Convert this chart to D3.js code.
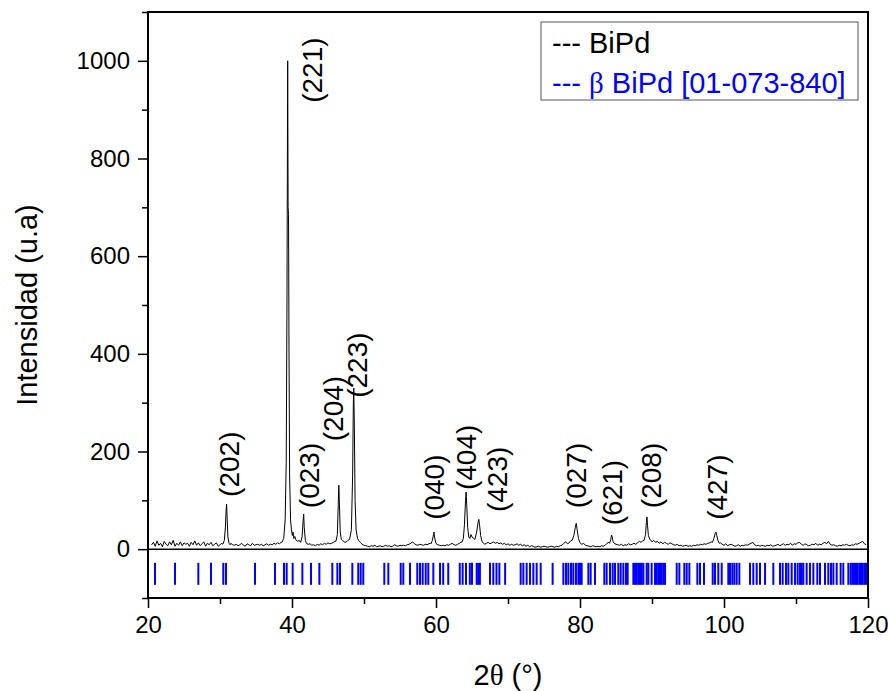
<!DOCTYPE html>
<html>
<head>
<meta charset="utf-8">
<script src="https://cdn.jsdelivr.net/npm/d3@7"></script>
<style>
  body { margin: 0; background: #fff; }
  svg { display: block; }
  text { font-family: "Liberation Sans", Arial, sans-serif; }
</style>
</head>
<body>
<svg id="chart" width="888" height="691"></svg>
<script>
// background of the pattern, sampled every 0.25 deg from 20.5 deg
const bgStart = 20.5, bgStep = 0.25;
const background = [
  9,14,6,17,8,12,5,16,10,7,15,9,18,6,12,8,15,7,13,10,
  12,6,14,9,17,8,13,7,11,15,6,12,9,14,7,10,13,6,9,12,
  10,9,8,11,12,9,8,10,7,9,12,8,6,11,9,7,12,8,9,10,
  8,10,7,9,11,8,10,9,12,10,13,11,14,15,20,25,30,28,25,22,
  20,16,18,15,14,14,12,10,11,8,9,7,10,8,11,9,12,10,13,11,
  12,14,16,18,40,22,18,15,14,18,22,28,60,60,25,18,14,10,8,7,
  6,5,7,6,8,5,6,7,5,6,8,6,7,5,6,9,7,6,8,7,
  8,7,9,10,12,15,11,9,8,10,9,8,10,9,11,12,14,12,10,9,
  8,7,8,7,9,8,10,12,9,8,10,12,15,20,25,40,25,20,28,22,
  25,30,40,25,14,10,12,14,11,13,15,12,14,11,13,10,12,9,11,8,
  10,8,9,11,8,10,7,9,6,8,5,7,6,4,5,6,4,5,6,5,
  4,5,6,5,4,6,5,7,8,12,15,11,13,18,25,40,40,25,14,10,
  12,8,7,6,5,7,6,5,6,5,7,6,8,12,14,20,20,15,10,9,
  8,10,7,9,8,11,9,10,12,10,13,16,14,18,25,40,40,20,15,18,
  14,16,12,15,11,14,12,10,13,11,9,8,10,7,8,6,7,8,6,7,
  6,8,7,9,8,10,9,11,10,12,13,15,20,25,25,18,13,10,8,11,
  7,9,10,8,6,7,9,6,8,7,9,8,10,12,14,9,7,8,6,8,
  7,6,8,7,9,6,7,8,10,7,9,11,8,10,9,12,8,11,10,13,
  14,10,8,11,9,7,8,10,9,12,8,10,9,12,14,11,16,10,8,9,
  7,6,8,7,9,8,10,8,7,9,8,11,10,12,14,16,11,9
];

// measured points over each reflection [2theta, intensity]
const peakProfiles = [
  [[30.4,10],[30.6,18],[30.75,45],[30.85,80],[30.92,92],[31.0,60],[31.1,25],[31.25,12],[31.4,9]],
  [[38.6,14],[38.85,22],[39.05,60],[39.2,180],[39.3,500],[39.4,1000],[39.46,700],[39.52,685],[39.58,420],[39.67,150],[39.8,60],[39.92,40],[40.05,28],[40.15,35],[40.25,22],[40.4,26]],
  [[41.2,14],[41.4,25],[41.55,60],[41.62,72],[41.7,45],[41.85,18],[42.0,12]],
  [[46.1,16],[46.3,30],[46.42,90],[46.5,131],[46.58,95],[46.7,35],[46.85,20]],
  [[48.0,20],[48.25,40],[48.42,150],[48.52,300],[48.58,330],[48.66,250],[48.76,100],[48.9,40],[49.1,22]],
  [[59.3,11],[59.5,18],[59.65,30],[59.72,35],[59.8,25],[59.95,14],[60.1,10]],
  [[63.6,14],[63.8,22],[63.95,50],[64.1,100],[64.18,117],[64.27,90],[64.4,45],[64.55,25],[64.7,22],[64.85,30],[65.0,25]],
  [[65.4,20],[65.65,35],[65.85,55],[65.95,61],[66.05,50],[66.2,28],[66.4,15]],
  [[78.9,18],[79.15,28],[79.35,45],[79.48,53],[79.6,40],[79.78,22],[80.0,13]],
  [[84.1,12],[84.28,20],[84.38,29],[84.46,26],[84.58,16],[84.75,12]],
  [[88.9,18],[89.1,30],[89.22,55],[89.3,66],[89.38,48],[89.5,28],[89.7,20]],
  [[98.4,14],[98.6,22],[98.78,32],[98.88,35],[99.0,28],[99.15,18],[99.35,12]]
];

// reference pattern positions (2theta) for beta BiPd
const refLines = [
  20.97,23.75,26.99,28.75,30.46,30.83,34.86,37.64,38.89,39.26,40.09,41.44,42.64,43.8,
  45.6,46.3,46.67,48.38,49.2,49.54,49.9,52.82,53.38,55.1,55.46,56.39,57.4,57.78,58.15,
  58.57,58.93,59.63,60.56,61.0,61.7,63.3,63.7,64.17,64.7,65.0,65.65,65.87,66.1,67.5,
  67.96,68.4,68.8,69.6,71.76,72.13,72.59,73.06,73.52,73.98,74.54,76.2,77.69,78.06,
  78.38,78.75,79.07,79.44,79.77,80.0,80.23,81.16,81.48,82.08,83.38,83.7,84.17,84.54,
  84.86,85.32,85.65,86.02,86.39,86.62,87.41,87.64,87.87,88.1,88.33,88.57,88.8,89.26,
  89.49,89.95,90.42,90.65,90.88,91.11,91.34,91.57,91.81,93.43,93.8,94.49,94.82,95.19,
  96.3,96.67,97.22,98.43,98.75,99.21,99.68,100.6,100.83,101.16,101.44,101.76,102.13,
  103.61,104.07,104.54,105.0,105.7,106.85,107.78,108.15,108.61,108.94,109.4,109.86,
  110.23,110.56,110.79,111.02,111.48,111.94,112.41,112.96,113.33,114.03,114.49,114.86,
  115.19,115.65,116.2,116.57,117.27,117.59,117.82,118.06,118.33,118.56,118.8,119.03,
  119.26,119.49,119.72
];
const refTop = -28, refBottom = -73;

// hkl labels [text, 2theta, intensity at start of the text]
const hklLabels = [
  ["(202)", 31.2, 107], ["(221)", 42.7, 914], ["(023)", 42.3, 84], ["(204)", 45.75, 221],
  ["(223)", 48.95, 310], ["(040)", 59.65, 60], ["(404)", 64.1, 121], ["(423)", 68.4, 76],
  ["(027)", 79.5, 84], ["(621)", 84.5, 49], ["(208)", 89.9, 84], ["(427)", 99.0, 60]
];

const xMajor = [20, 40, 60, 80, 100, 120];
const xMinor = [30, 50, 70, 90, 110];
const yMajor = [0, 200, 400, 600, 800, 1000];
const yMinor = [-100, 100, 300, 500, 700, 900, 1100];

const svg = d3.select("#chart");
const x = d3.scaleLinear().domain([20, 120]).range([148, 868]);
const y = d3.scaleLinear().domain([-100, 1100]).range([598, 12]);

// ── build the measured curve ─────────────────────────────────
let pts = [];
background.forEach((v, i) => {
  const t = bgStart + i * bgStep;
  const inPeak = peakProfiles.some(p => t >= p[0][0] && t <= p[p.length - 1][0]);
  if (!inPeak) pts.push([t, v]);
});
peakProfiles.forEach(p => { pts = pts.concat(p); });
pts.sort((a, b) => a[0] - b[0]);

// reference sticks
svg.append("g").selectAll("line").data(refLines).join("line")
  .attr("x1", d => x(d)).attr("x2", d => x(d))
  .attr("y1", y(refTop)).attr("y2", y(refBottom))
  .attr("stroke", "#0000ff").attr("stroke-width", 2);

// zero line
svg.append("line")
  .attr("x1", x(20)).attr("x2", x(120))
  .attr("y1", y(0)).attr("y2", y(0))
  .attr("stroke", "#000").attr("stroke-width", 1.5);

svg.append("path")
  .datum(pts)
  .attr("fill", "none")
  .attr("stroke", "#000")
  .attr("stroke-width", 1)
  .attr("d", d3.line().x(d => x(d[0])).y(d => y(d[1])));

// hkl labels
svg.append("g").selectAll("text").data(hklLabels).join("text")
  .attr("transform", d => `translate(${x(d[1])},${y(d[2])}) rotate(-90)`)
  .attr("dy", "0.36em")
  .attr("font-size", 28)
  .attr("fill", "#000")
  .text(d => d[0]);

// ── axes ─────────────────────────────────────────────────────
function styleAxis(g) {
  g.select(".domain").remove();
  g.selectAll(".tick line").attr("stroke", "#000").attr("stroke-width", 1.5);
  g.selectAll(".tick text").attr("font-size", 24).attr("fill", "#000")
    .attr("font-family", '"Liberation Sans", Arial, sans-serif');
}

svg.append("g").attr("transform", `translate(0,${y(-100)})`)
  .call(d3.axisBottom(x).tickValues(xMajor).tickSize(10).tickPadding(8).tickFormat(d3.format("d")))
  .call(styleAxis);
svg.append("g").attr("transform", `translate(0,${y(-100)})`)
  .call(d3.axisBottom(x).tickValues(xMinor).tickSize(6).tickFormat(""))
  .call(styleAxis);
svg.append("g").attr("transform", `translate(${x(20)},0)`)
  .call(d3.axisLeft(y).tickValues(yMajor).tickSize(10).tickPadding(8).tickFormat(d3.format("d")))
  .call(styleAxis);
svg.append("g").attr("transform", `translate(${x(20)},0)`)
  .call(d3.axisLeft(y).tickValues(yMinor).tickSize(6).tickFormat(""))
  .call(styleAxis);

// frame
svg.append("rect")
  .attr("x", x(20)).attr("y", y(1100))
  .attr("width", x(120) - x(20)).attr("height", y(-100) - y(1100))
  .attr("fill", "none").attr("stroke", "#000").attr("stroke-width", 2);

// axis titles
svg.append("text")
  .attr("transform", `translate(37,${(y(-100) + y(1100)) / 2}) rotate(-90)`)
  .attr("text-anchor", "middle")
  .attr("font-size", 29)
  .text("Intensidad (u.a)");

const xt = svg.append("text")
  .attr("x", (x(20) + x(120)) / 2).attr("y", 685)
  .attr("text-anchor", "middle")
  .attr("font-size", 29);
xt.append("tspan").text("2");
xt.append("tspan").attr("font-family", '"Liberation Serif", "Times New Roman", serif').text("θ");
xt.append("tspan").text(" (°)");

// legend
svg.append("rect")
  .attr("x", 541).attr("y", 22).attr("width", 317).attr("height", 78)
  .attr("fill", "#fff").attr("stroke", "#555").attr("stroke-width", 1);
svg.append("text").attr("x", 552).attr("y", 53).attr("font-size", 29)
  .attr("fill", "#000").text("--- BiPd");
const lg = svg.append("text").attr("x", 552).attr("y", 93).attr("font-size", 29)
  .attr("fill", "#0000ff");
lg.append("tspan").text("--- ");
lg.append("tspan").attr("font-family", '"Liberation Serif", "Times New Roman", serif').text("β");
lg.append("tspan").text(" BiPd [01-073-840]");
</script>
</body>
</html>
